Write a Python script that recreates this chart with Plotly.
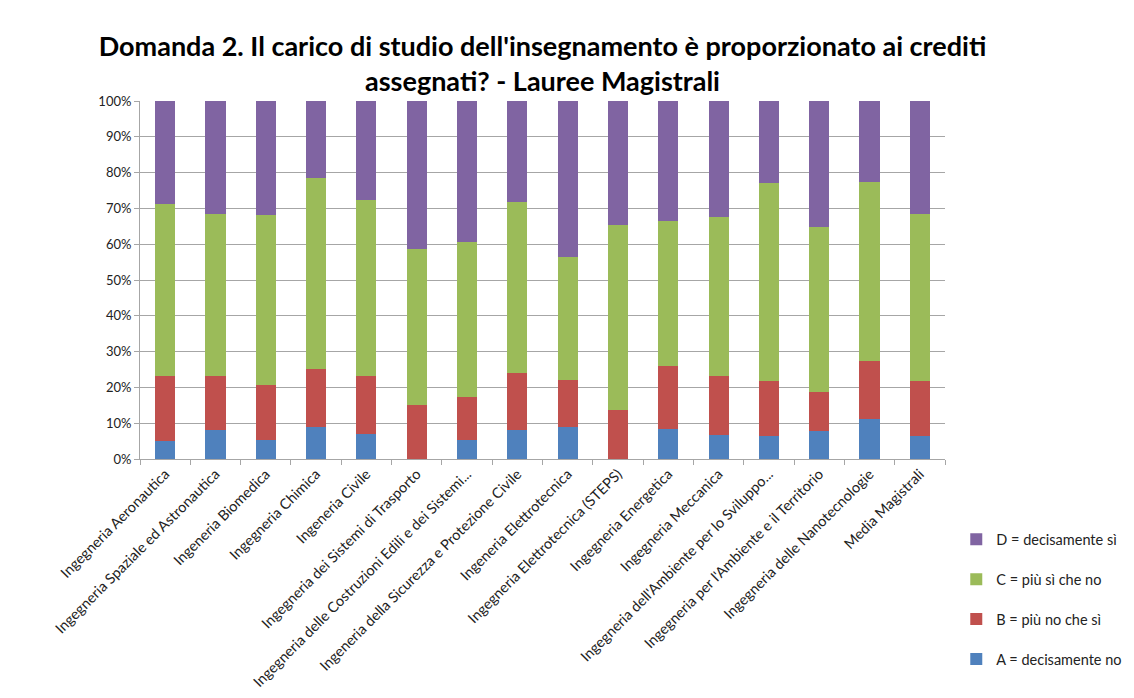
import plotly.graph_objects as go

# corsi di laurea magistrale (etichette come nel grafico originale)
corsi = [
    "Ingegneria Aeronautica",
    "Ingegneria Spaziale ed Astronautica",
    "Ingeneria Biomedica",
    "Ingegneria Chimica",
    "Ingeneria Civile",
    "Ingegneria dei Sistemi di Trasporto",
    "Ingegneria delle Costruzioni Edili e dei Sistemi...",
    "Ingeneria della Sicurezza e Protezione Civile",
    "Ingeneria Elettrotecnica",
    "Ingegneria Elettrotecnica (STEPS)",
    "Ingegneria Energetica",
    "Ingegneria Meccanica",
    "Ingegneria dell'Ambiente per lo Sviluppo...",
    "Ingegneria per l'Ambiente e il Territorio",
    "Ingegneria delle Nanotecnologie",
    "Media Magistrali",
]

# percentuali
risp_A = [4.9, 8.0, 5.4, 9.0, 7.0, 0.0, 5.2, 8.0, 9.0, 0.0, 8.5, 6.7, 6.3, 7.8, 11.1, 6.3]
risp_B = [18.2, 15.3, 15.3, 16.2, 16.3, 15.1, 12.0, 16.1, 13.2, 13.8, 17.6, 16.4, 15.4, 11.0, 16.2, 15.4]
risp_C = [48.2, 45.1, 47.5, 53.2, 49.1, 43.6, 43.3, 47.7, 34.1, 51.7, 40.5, 44.5, 55.4, 46.1, 50.1, 46.7]
risp_D = [28.7, 31.6, 31.8, 21.6, 27.6, 41.3, 39.5, 28.2, 43.7, 34.5, 33.4, 32.4, 22.9, 35.1, 22.6, 31.6]

serie = [
    ("A = decisamente no", risp_A, "#4F81BD"),
    ("B = più no che sì", risp_B, "#C0504D"),
    ("C = più sì che no", risp_C, "#9BBB59"),
    ("D = decisamente sì", risp_D, "#8064A2"),
]

font_name = "Lato, Open Sans, sans-serif"

fig = go.Figure()
for i, (nome, valori, colore) in enumerate(serie):
    fig.add_trace(go.Bar(x=corsi, y=[v / 100 for v in valori], name=nome,
                         legendgroup=nome, legendrank=10 - i,
                         marker_color=colore, marker_line_width=0))

# la pagina ha un margine di 8px: figura leggermente più piccola
fig.update_layout(
    barmode="stack",
    bargap=0.6,
    width=1126, height=690,
    margin=dict(l=132, r=189, t=93, b=239, autoexpand=False),
    paper_bgcolor="white", plot_bgcolor="white",
    font=dict(family=font_name, size=12, color="#222"),
    title=dict(
        text="<b>Domanda 2. Il carico di studio dell'insegnamento è proporzionato ai crediti<br>assegnati? - Lauree Magistrali</b>",
        x=0.5, xref="paper", xanchor="center",
        y=1 - 48 / 690, yref="container", yanchor="top",
        font=dict(size=27, color="black", family=font_name),
    ),
    legend=dict(
        x=1.014, xanchor="left", y=-0.18, yanchor="top",
        traceorder="grouped", tracegroupgap=18, itemwidth=30,
        font=dict(size=14.5, color="#222"),
    ),
)

fig.update_yaxes(
    range=[0, 1], tickformat=".0%", dtick=0.1, automargin=False,
    showgrid=True, gridcolor="#A6A6A6", gridwidth=1,
    showline=True, linecolor="#A6A6A6",
    ticks="outside", ticklen=5, tickcolor="#A6A6A6",
    tickfont=dict(size=13, color="#222"),
)
fig.update_xaxes(
    tickangle=-45, showline=True, linecolor="#A6A6A6", automargin=False,
    ticks="outside", tickson="boundaries", ticklen=5, tickcolor="#A6A6A6",
    tickfont=dict(size=14.5, color="#222"),
)

fig.write_html("out.html")
